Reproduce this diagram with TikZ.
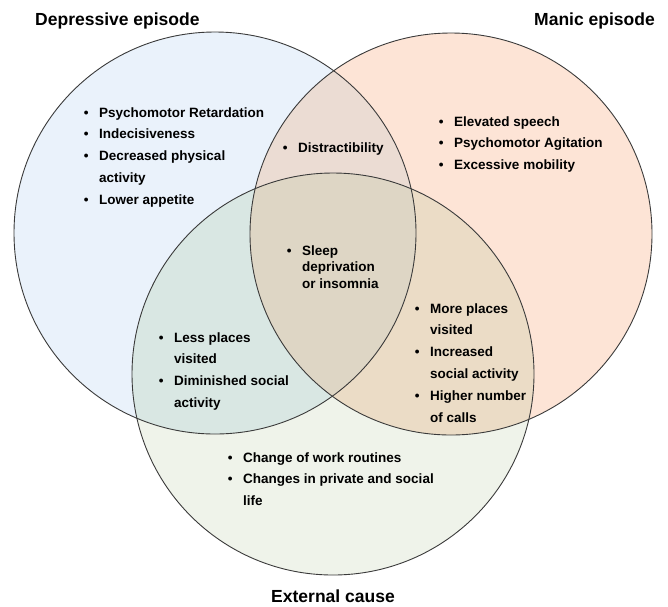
\documentclass[tikz,border=0pt]{standalone}
\usepackage{fontspec}
\setmainfont{Liberation Sans}

\definecolor{depfill}{HTML}{EAF2FB}
\definecolor{manfill}{HTML}{FDE4D6}
\definecolor{extfill}{HTML}{EFF3EA}
\definecolor{dmfill}{HTML}{EBDCD3}
\definecolor{defill}{HTML}{D9E7E3}
\definecolor{mefill}{HTML}{EBDCC6}
\definecolor{allfill}{HTML}{DED6C5}
\definecolor{rimcol}{HTML}{3A3A3A}

\newcommand\crad{201}
\newcommand\itm{\llap{\textbullet\hspace{10.5pt}}}

\tikzset{
  rim/.style={draw=rimcol, line width=0.9pt},
  heading/.style={font=\fontsize{17.5}{21}\selectfont\bfseries, inner sep=0pt},
  items/.style={font=\fontsize{13.5}{21.8}\selectfont\bfseries, inner sep=0pt, anchor=base west},
  tightitems/.style={items, font=\fontsize{13.5}{16.5}\selectfont\bfseries}
}

\begin{document}
\begin{tikzpicture}[x=1pt,y=-1pt]
  \useasboundingbox (0,0) rectangle (668,606);

  \coordinate (dep) at (215,233);
  \coordinate (man) at (451,234);
  \coordinate (ext) at (333,374);

  % plain discs
  \fill[depfill] (dep) circle[radius=\crad];
  \fill[manfill] (man) circle[radius=\crad];
  \fill[extfill] (ext) circle[radius=\crad];

  % overlaps
  \begin{scope}
    \clip (dep) circle[radius=\crad];
    \fill[dmfill] (man) circle[radius=\crad];
  \end{scope}
  \begin{scope}
    \clip (dep) circle[radius=\crad];
    \fill[defill] (ext) circle[radius=\crad];
  \end{scope}
  \begin{scope}
    \clip (man) circle[radius=\crad];
    \fill[mefill] (ext) circle[radius=\crad];
  \end{scope}
  \begin{scope}
    \clip (dep) circle[radius=\crad];
    \clip (man) circle[radius=\crad];
    \fill[allfill] (ext) circle[radius=\crad];
  \end{scope}

  \draw[rim] (dep) circle[radius=\crad];
  \draw[rim] (man) circle[radius=\crad];
  \draw[rim] (ext) circle[radius=\crad];

  % headings
  \node[heading, anchor=base west] (deptitle) at (35,25) {Depressive episode};
  \node[heading, anchor=base east] (mantitle) at (655,25) {Manic episode};
  \node[heading, anchor=base] (exttitle) at (333,602) {External cause};

  % lists
  \node[items] (deplist) at (99,117) {\begin{tabular}[t]{@{}l@{}}
    \itm Psychomotor Retardation\\
    \itm Indecisiveness\\
    \itm Decreased physical\\
    activity\\
    \itm Lower appetite
  \end{tabular}};
  \node[items] (dmlist) at (298,152) {\itm Distractibility};
  \node[tightitems] (alllist) at (302,255) {\begin{tabular}[t]{@{}l@{}}
    \itm Sleep\\
    deprivation\\
    or insomnia
  \end{tabular}};
  \node[items] (manlist) at (454,126) {\begin{tabular}[t]{@{}l@{}}
    \itm Elevated speech\\
    \itm Psychomotor Agitation\\
    \itm Excessive mobility
  \end{tabular}};
  \node[items] (delist) at (174,342) {\begin{tabular}[t]{@{}l@{}}
    \itm Less places\\
    visited\\
    \itm Diminished social\\
    activity
  \end{tabular}};
  \node[items] (melist) at (430,313) {\begin{tabular}[t]{@{}l@{}}
    \itm More places\\
    visited\\
    \itm Increased\\
    social activity\\
    \itm Higher number\\
    of calls
  \end{tabular}};
  \node[items] (extlist) at (243,462) {\begin{tabular}[t]{@{}l@{}}
    \itm Change of work routines\\
    \itm Changes in private and social\\
    life
  \end{tabular}};
\end{tikzpicture}
\end{document}
